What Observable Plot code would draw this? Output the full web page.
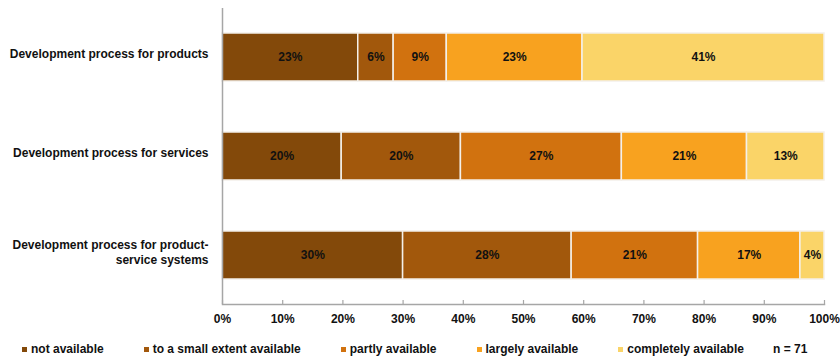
<!DOCTYPE html>
<html>
<head>
<meta charset="utf-8">
<script src="https://cdn.jsdelivr.net/npm/d3@7"></script>
<script src="https://cdn.jsdelivr.net/npm/@observablehq/plot@0.6"></script>
<style>
  body { margin: 0; background: #fff; font-family: "Liberation Sans", Arial, sans-serif; }
  #chart { position: relative; width: 840px; height: 360px; overflow: hidden; }
  .legend { position: absolute; left: 22px; top: 342px; display: flex; align-items: center;
            font-weight: bold; font-size: 12px; color: #111; white-space: nowrap; }
  .legend .item { display: flex; align-items: center; margin-right: 40px; }
  .legend i { display: inline-block; width: 5px; height: 5px; margin-right: 4px; }
  .note { position: absolute; left: 773px; top: 342px; font-weight: bold; font-size: 12px; color: #111; }
</style>
</head>
<body>
<div id="chart"></div>
<script>
// Survey rows (top to bottom)
const rows = [
  "Development process for products",
  "Development process for services",
  "Development process for product-service systems"
];
// Row labels as printed, with the line break of the last one
const rowLabels = [
  "Development process for products",
  "Development process for services",
  "Development process for product-\nservice systems"
];
// Answer levels, in stacking order
const levels = [
  "not available",
  "to a small extent available",
  "partly available",
  "largely available",
  "completely available"
];
// Shares per level (%), one array per row
const productsShares = [23, 6, 9, 23, 41];
const servicesShares = [20, 20, 27, 21, 13];
const pssShares = [30, 28, 21, 17, 4];
// Colours per level
const levelColors = ["#83490a", "#a2580c", "#d1720f", "#f8a21f", "#fad468"];
// Axis tick values (%)
const tickPercents = [0, 10, 20, 30, 40, 50, 60, 70, 80, 90, 100];
const sampleNote = "n = 71";

const shareSets = [productsShares, servicesShares, pssShares];
const data = rows.flatMap((row, i) =>
  levels.map((level, j) => ({row, level, value: shareSets[i][j]}))
);
const xTicks = tickPercents.map(d => d / 100);

const font = "'Liberation Sans', Arial, sans-serif";
const H = 332, MT = 8, MB = 28;

const chart = Plot.plot({
  width: 840,
  height: H,
  marginLeft: 222,
  marginRight: 16,
  marginTop: MT,
  marginBottom: MB,
  style: {fontFamily: font, fontSize: "12px", fontWeight: "bold", color: "#111", background: "#fff"},
  x: {domain: [0, 1], label: null},
  y: {domain: rows, paddingInner: 0.515, paddingOuter: 0.25, label: null},
  color: {domain: levels, range: levelColors},
  marks: [
    Plot.barX(data, Plot.stackX({
      offset: "normalize", order: levels,
      x: "value", y: "row", z: "level", fill: "level",
      stroke: "#f4f0ea", strokeWidth: 1.5
    })),
    Plot.text(data, Plot.stackX({
      offset: "normalize", order: levels,
      x: "value", y: "row", z: "level",
      text: d => `${d.value}%`, fill: "#111", fontSize: 12, fontWeight: "bold"
    })),
    // short inward tick marks sitting on the bottom axis line
    Plot.tickX(xTicks, {x: d => d, stroke: "#a6a6a6", strokeWidth: 1.2, insetTop: H - MT - MB - 4}),
    Plot.ruleX([0], {stroke: "#a6a6a6", strokeWidth: 1.5}),
    Plot.frame({anchor: "bottom", stroke: "#a6a6a6", strokeWidth: 1.5}),
    Plot.axisX(xTicks, {tickSize: 0, tickPadding: 10, tickFormat: d3.format(".0%"),
      fontSize: 12, fontWeight: "bold", fill: "#111", label: null}),
    Plot.axisY({tickSize: 0, tickPadding: 14, fontSize: 12, fontWeight: "bold", fill: "#111",
      lineHeight: 1.25, dy: -4, label: null,
      tickFormat: d => rowLabels[rows.indexOf(d)]})
  ]
});

const root = document.getElementById("chart");
root.appendChild(chart);

const legend = document.createElement("div");
legend.className = "legend";
levels.forEach((level, j) => {
  const item = document.createElement("span");
  item.className = "item";
  const sw = document.createElement("i");
  sw.style.background = levelColors[j];
  item.appendChild(sw);
  item.appendChild(document.createTextNode(level));
  legend.appendChild(item);
});
root.appendChild(legend);

const note = document.createElement("div");
note.className = "note";
note.textContent = sampleNote;
root.appendChild(note);
</script>
</body>
</html>
